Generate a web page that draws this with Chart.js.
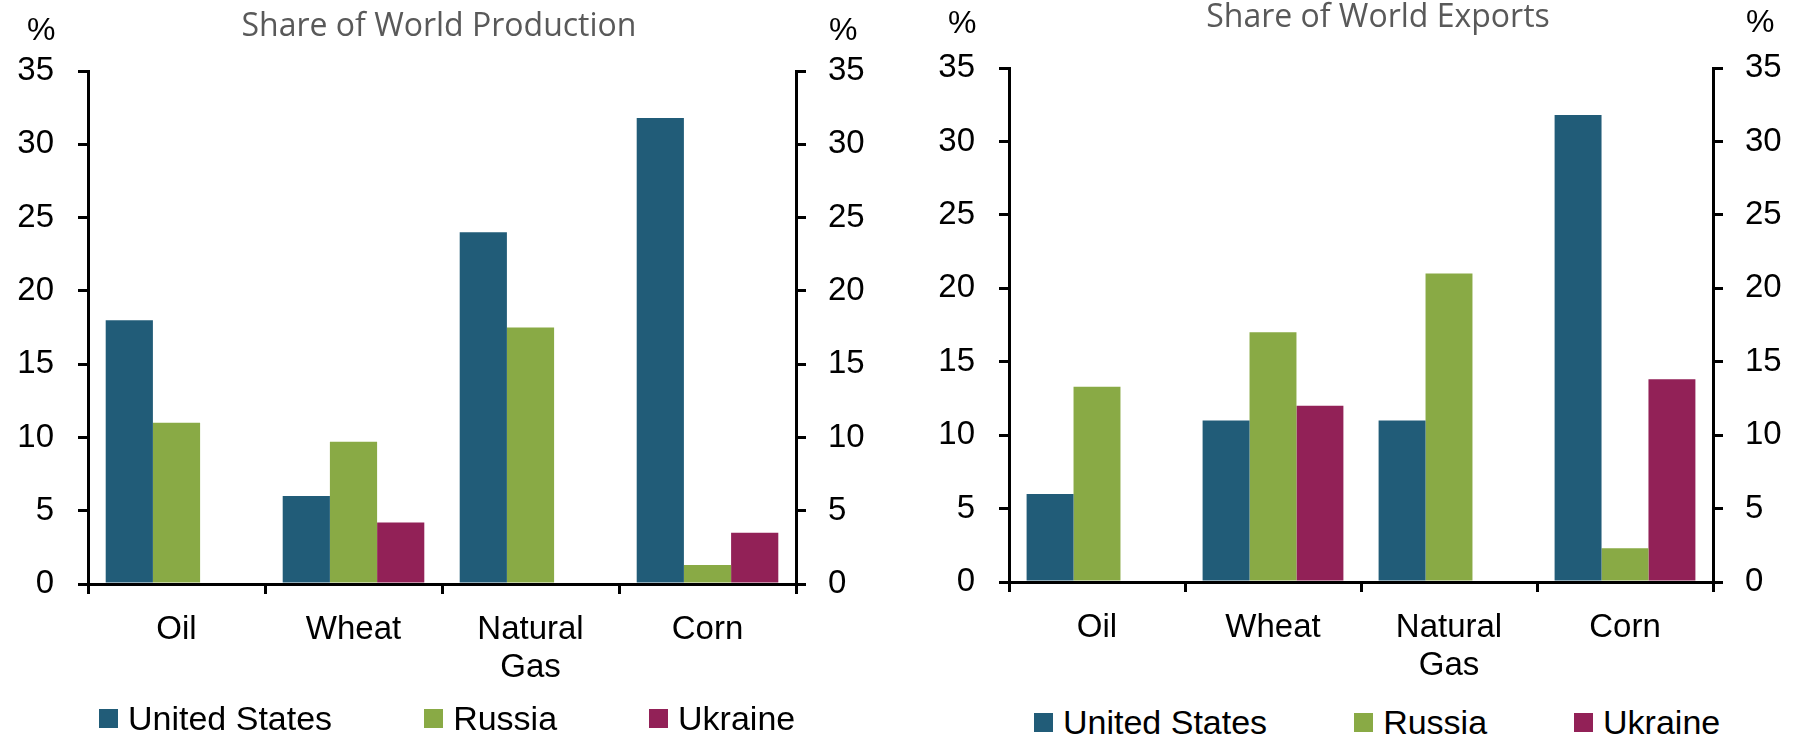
<!DOCTYPE html>
<html>
<head>
<meta charset="utf-8">
<title>Share of World Production and Exports</title>
<script src="https://cdn.jsdelivr.net/npm/chart.js@4.4.1/dist/chart.umd.min.js"></script>
<style>
  html, body { margin: 0; padding: 0; background: #fff; }
  body { width: 1804px; height: 738px; overflow: hidden; position: relative; }
  canvas { position: absolute; top: 0; }
  #production { left: 0; }
  #exports { left: 900px; }
  .title {
    position: absolute;
    font-family: "Open Sans", sans-serif;
    font-size: 32px;
    line-height: 32px;
    color: #595959;
    white-space: nowrap;
    transform: translateX(-50%);
  }
  .unit {
    position: absolute;
    font-family: "Liberation Sans", Arial, sans-serif;
    font-size: 32px;
    line-height: 32px;
    color: #000;
  }
  .legend {
    position: absolute;
    margin: 0;
    padding: 0;
    list-style: none;
    display: flex;
    font-family: "Liberation Sans", Arial, sans-serif;
    font-size: 34px;
    line-height: 34px;
    color: #000;
  }
  .legend li { display: flex; align-items: center; white-space: nowrap; }
  .legend .swatch { display: inline-block; width: 19px; height: 19px; margin-right: 10px; }
</style>
</head>
<body>
<canvas id="production" width="900" height="700"></canvas>
<canvas id="exports" width="904" height="700"></canvas>

<div class="title" style="left:439px; top:8px;">Share of World Production</div>
<div class="title" style="left:1378px; top:-1px;">Share of World Exports</div>

<div class="unit" style="left:27px; top:13px;">%</div>
<div class="unit" style="left:829px; top:13px;">%</div>
<div class="unit" style="left:948px; top:6px;">%</div>
<div class="unit" style="left:1746px; top:5px;">%</div>

<ul class="legend" id="legend-production" style="left:99px; top:701px; gap:92px;"></ul>
<ul class="legend" id="legend-exports" style="left:1034px; top:705px; gap:87px;"></ul>

<script>
// categories and series (percent of world total)
const categories = ["Oil", "Wheat", ["Natural", "Gas"], "Corn"];
const seriesNames = ["United States", "Russia", "Ukraine"];
const seriesColors = ["#215C78", "#89AA45", "#922157"];

const productionUS = [18.0, 6.0, 24.0, 31.8];
const productionRussia = [11.0, 9.7, 17.5, 1.3];
const productionUkraine = [null, 4.2, null, 3.5];

const exportsUS = [6.0, 11.0, 11.0, 31.8];
const exportsRussia = [13.3, 17.0, 21.0, 2.3];
const exportsUkraine = [null, 12.0, null, 13.8];

const yMin = 0;
const yMax = 35;
const yStep = 5;

const tickFont = { family: "'Liberation Sans', Arial, sans-serif", size: 33 };
const catFont = { family: "'Liberation Sans', Arial, sans-serif", size: 33, lineHeight: 1.15 };

// legend drawn as html list next to the canvas
const htmlLegend = {
  id: "htmlLegend",
  afterUpdate(chart, args, options) {
    const list = document.getElementById(options.containerID);
    list.innerHTML = "";
    const items = chart.options.plugins.legend.labels.generateLabels(chart);
    items.forEach((item) => {
      const li = document.createElement("li");
      const swatch = document.createElement("span");
      swatch.className = "swatch";
      swatch.style.background = item.fillStyle;
      const text = document.createElement("span");
      text.textContent = item.text;
      li.appendChild(swatch);
      li.appendChild(text);
      list.appendChild(li);
    });
  },
};

function axisStyle() {
  return {
    display: true,
    drawOnChartArea: false,
    drawTicks: true,
    tickLength: 10,
    lineWidth: 3,
    color: "#000",
  };
}

function makeChart(canvasId, legendId, values, area) {
  const canvas = document.getElementById(canvasId);
  return new Chart(canvas, {
    type: "bar",
    data: {
      labels: categories,
      datasets: values.map((data, i) => ({
        label: seriesNames[i],
        data: data,
        backgroundColor: seriesColors[i],
        borderWidth: 0,
        categoryPercentage: 0.8,
        barPercentage: 1.0,
      })),
    },
    options: {
      responsive: false,
      animation: false,
      layout: { padding: { top: area.top, left: 0, right: 0, bottom: 0 } },
      scales: {
        x: {
          grid: Object.assign(axisStyle(), { offset: true }),
          border: { display: true, color: "#000", width: 3 },
          ticks: {
            color: "#000",
            font: catFont,
            padding: 17,
            maxRotation: 0,
            autoSkip: false,
          },
          afterFit(scale) {
            scale.height = canvas.height - area.bottom;
          },
        },
        y: {
          position: "left",
          min: yMin,
          max: yMax,
          grid: axisStyle(),
          border: { display: true, color: "#000", width: 3 },
          ticks: { stepSize: yStep, color: "#000", font: tickFont, padding: 24 },
          afterFit(scale) {
            scale.width = area.left;
          },
        },
        y2: {
          position: "right",
          display: true,
          min: yMin,
          max: yMax,
          grid: axisStyle(),
          border: { display: true, color: "#000", width: 3 },
          ticks: { stepSize: yStep, color: "#000", font: tickFont, padding: 22 },
          afterFit(scale) {
            scale.width = canvas.width - area.right;
          },
        },
      },
      plugins: {
        legend: { display: false },
        tooltip: { enabled: false },
        htmlLegend: { containerID: legendId },
      },
    },
    plugins: [htmlLegend],
  });
}

makeChart(
  "production",
  "legend-production",
  [productionUS, productionRussia, productionUkraine],
  { left: 88, right: 796, top: 71, bottom: 584 }
);

makeChart(
  "exports",
  "legend-exports",
  [exportsUS, exportsRussia, exportsUkraine],
  { left: 109, right: 813, top: 68, bottom: 582 }
);
</script>
</body>
</html>
